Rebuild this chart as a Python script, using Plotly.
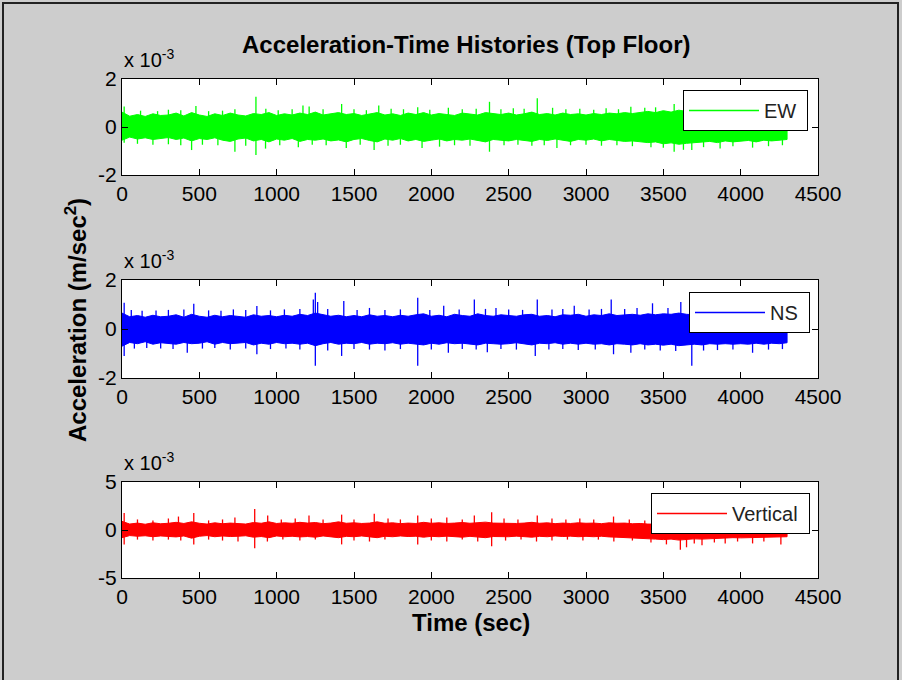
import plotly.graph_objects as go

# ---------------- data (units of 1e-3 m/sec^2) ----------------
t_core = list(range(0, 4301, 50))

ew_core_hi = [0.62, 0.45, 0.52, 0.44, 0.55, 0.48, 0.50, 0.58, 0.46, 0.60,
              0.50, 0.44, 0.55, 0.48, 0.58, 0.50, 0.46, 0.56, 0.52, 0.60,
              0.48, 0.55, 0.50, 0.58, 0.52, 0.62, 0.50, 0.55, 0.60, 0.52,
              0.56, 0.48, 0.54, 0.60, 0.50, 0.55, 0.48, 0.58, 0.52, 0.60,
              0.50, 0.56, 0.52, 0.48, 0.58, 0.54, 0.50, 0.60, 0.55, 0.52,
              0.58, 0.50, 0.55, 0.62, 0.52, 0.56, 0.50, 0.58, 0.52, 0.55,
              0.50, 0.56, 0.52, 0.58, 0.55, 0.60, 0.56, 0.62, 0.65, 0.60,
              0.68, 0.62, 0.70, 0.65, 0.62, 0.60, 0.58, 0.62, 0.56, 0.60,
              0.55, 0.60, 0.52, 0.56, 0.50, 0.55, 0.52]
ew_core_lo = [-0.55, -0.42, -0.50, -0.45, -0.52, -0.48, -0.44, -0.52, -0.46, -0.58,
              -0.48, -0.52, -0.45, -0.55, -0.60, -0.50, -0.46, -0.58, -0.52, -0.62,
              -0.50, -0.55, -0.48, -0.60, -0.52, -0.55, -0.50, -0.58, -0.54, -0.62,
              -0.52, -0.48, -0.56, -0.62, -0.50, -0.55, -0.48, -0.58, -0.52, -0.60,
              -0.55, -0.50, -0.58, -0.52, -0.55, -0.50, -0.56, -0.62, -0.52, -0.55,
              -0.58, -0.52, -0.55, -0.60, -0.52, -0.56, -0.50, -0.55, -0.60, -0.52,
              -0.55, -0.50, -0.58, -0.52, -0.56, -0.60, -0.58, -0.62, -0.65, -0.62,
              -0.70, -0.66, -0.72, -0.68, -0.65, -0.62, -0.60, -0.65, -0.58, -0.62,
              -0.60, -0.56, -0.62, -0.55, -0.58, -0.55, -0.52]
ew_peak_up_t = [14, 120, 230, 300, 380, 478, 560, 650, 730, 866, 930, 1010, 1100, 1170,
                1210, 1300, 1420, 1500, 1580, 1660, 1740, 1820, 1912, 1990, 2110, 2200,
                2290, 2376, 2450, 2530, 2600, 2685, 2784, 2870, 2960, 3050, 3130, 3210,
                3290, 3380, 3450, 3570, 3700, 3850, 4000, 4150, 4280]
ew_peak_up_v = [0.85, 0.68, 0.66, 0.72, 0.70, 0.87, 0.66, 0.68, 0.74, 1.26, 0.76, 0.70, 0.74, 0.90,
                0.85, 0.74, 0.96, 0.74, 0.70, 0.90, 0.76, 0.74, 0.82, 0.72, 0.80, 0.74,
                0.76, 1.05, 0.74, 0.78, 0.76, 1.20, 0.80, 0.74, 0.76, 0.72, 0.78, 0.74,
                0.84, 0.80, 0.82, 0.96, 0.82, 0.80, 0.82, 0.78, 0.74]
ew_peak_dn_t = [14, 100, 200, 300, 380, 450, 520, 620, 730, 800, 866, 928, 1020, 1140, 1230,
                1320, 1450, 1540, 1630, 1720, 1800, 1940, 2053, 2150, 2250, 2376, 2470, 2560,
                2650, 2730, 2812, 2900, 3000, 3100, 3200, 3300, 3420, 3500, 3570, 3630, 3684,
                3760, 3867, 3950, 4077, 4180, 4270]
ew_peak_dn_v = [-0.66, -0.70, -0.74, -0.72, -0.76, -0.96, -0.74, -0.76, -1.03, -0.78, -1.17, -0.90,
                -0.76, -0.84, -0.74, -0.76, -0.88, -0.74, -0.96, -0.78, -0.74, -0.88, -0.82, -0.76,
                -0.78, -1.03, -0.76, -0.74, -0.78, -0.76, -0.88, -0.76, -0.74, -0.78, -0.76, -0.80,
                -0.84, -0.86, -1.03, -0.95, -0.96, -0.84, -0.90, -0.80, -0.86, -0.80, -0.76]

ns_core_hi = [0.65, 0.50, 0.55, 0.48, 0.56, 0.50, 0.52, 0.58, 0.48, 0.60,
              0.52, 0.48, 0.56, 0.50, 0.55, 0.52, 0.48, 0.58, 0.52, 0.55,
              0.50, 0.56, 0.52, 0.60, 0.55, 0.65, 0.58, 0.52, 0.56, 0.50,
              0.55, 0.50, 0.58, 0.52, 0.55, 0.50, 0.56, 0.52, 0.58, 0.62,
              0.52, 0.56, 0.50, 0.60, 0.55, 0.52, 0.62, 0.55, 0.52, 0.58,
              0.55, 0.52, 0.58, 0.60, 0.52, 0.55, 0.50, 0.58, 0.56, 0.60,
              0.52, 0.58, 0.55, 0.62, 0.55, 0.58, 0.60, 0.56, 0.62, 0.58,
              0.62, 0.60, 0.65, 0.60, 0.58, 0.60, 0.56, 0.58, 0.55, 0.58,
              0.55, 0.58, 0.52, 0.55, 0.52, 0.55, 0.50]
ns_core_lo = [-0.70, -0.55, -0.60, -0.52, -0.62, -0.56, -0.58, -0.62, -0.55, -0.60,
              -0.58, -0.52, -0.62, -0.55, -0.60, -0.58, -0.55, -0.65, -0.58, -0.62,
              -0.55, -0.60, -0.58, -0.62, -0.58, -0.68, -0.60, -0.55, -0.62, -0.58,
              -0.60, -0.55, -0.62, -0.58, -0.60, -0.56, -0.62, -0.58, -0.62, -0.65,
              -0.58, -0.62, -0.56, -0.60, -0.58, -0.62, -0.65, -0.58, -0.60, -0.62,
              -0.60, -0.56, -0.62, -0.65, -0.58, -0.60, -0.56, -0.62, -0.58, -0.62,
              -0.58, -0.62, -0.60, -0.65, -0.60, -0.62, -0.65, -0.60, -0.65, -0.62,
              -0.66, -0.62, -0.68, -0.65, -0.62, -0.65, -0.60, -0.62, -0.60, -0.62,
              -0.60, -0.62, -0.58, -0.62, -0.58, -0.60, -0.56]
ns_peak_up_t = [14, 60, 130, 220, 300, 400, 464, 560, 640, 720, 800, 872, 960, 1050, 1150,
                1237, 1250, 1265, 1330, 1434, 1520, 1600, 1700, 1800, 1912, 1990, 2080, 2180,
                2278, 2350, 2418, 2500, 2590, 2685, 2780, 2850, 2924, 3020, 3100, 3163, 3250,
                3330, 3430, 3530, 3613, 3750, 3900, 4050, 4200]
ns_peak_up_v = [1.07, 0.78, 0.74, 0.76, 0.78, 0.80, 1.03, 0.76, 0.74, 0.80, 0.78, 0.94, 0.76, 0.80, 0.82,
                1.20, 1.48, 1.10, 0.82, 1.14, 0.78, 0.86, 0.78, 0.80, 1.28, 0.78, 0.95, 0.80,
                1.20, 0.82, 0.86, 0.80, 0.78, 1.20, 0.80, 0.82, 0.95, 0.80, 0.82, 1.20, 0.82,
                0.86, 1.05, 0.86, 1.10, 0.82, 0.82, 0.82, 0.78]
ns_peak_dn_t = [14, 80, 160, 250, 330, 422, 520, 600, 700, 800, 872, 960, 1060, 1150, 1250,
                1330, 1420, 1500, 1600, 1700, 1800, 1912, 2000, 2110, 2200, 2290, 2362, 2450,
                2550, 2672, 2760, 2850, 2950, 3060, 3178, 3290, 3380, 3480, 3580, 3684, 3760,
                3850, 3950, 4077, 4180, 4270]
ns_peak_dn_v = [-1.10, -0.80, -0.78, -0.80, -0.82, -0.97, -0.80, -0.78, -0.84, -0.80, -1.03, -0.82,
                -0.80, -0.84, -1.50, -0.88, -1.10, -0.82, -0.84, -0.88, -0.82, -1.50, -0.84, -0.97,
                -0.82, -0.84, -0.95, -0.82, -0.84, -1.10, -0.84, -0.82, -0.86, -0.84, -1.03, -0.97,
                -0.84, -0.88, -0.90, -1.50, -0.88, -0.86, -0.84, -0.97, -0.84, -0.82]

v_core_hi = [0.90, 0.62, 0.72, 0.60, 0.75, 0.65, 0.70, 0.80, 0.68, 0.85,
             0.70, 0.62, 0.75, 0.65, 0.72, 0.68, 0.62, 0.78, 0.70, 0.85,
             0.68, 0.75, 0.70, 0.80, 0.72, 0.78, 0.66, 0.72, 0.85, 0.70,
             0.75, 0.68, 0.72, 0.85, 0.70, 0.75, 0.66, 0.72, 0.68, 0.80,
             0.70, 0.75, 0.68, 0.72, 0.78, 0.70, 0.75, 0.82, 0.72, 0.70,
             0.75, 0.68, 0.72, 0.80, 0.70, 0.75, 0.66, 0.72, 0.68, 0.75,
             0.70, 0.72, 0.66, 0.75, 0.70, 0.72, 0.65, 0.68, 0.62, 0.60,
             0.62, 0.58, 0.60, 0.56, 0.58, 0.55, 0.58, 0.55, 0.56, 0.55,
             0.55, 0.58, 0.55, 0.56, 0.55, 0.58, 0.55]
v_core_lo = [-0.80, -0.58, -0.65, -0.60, -0.70, -0.62, -0.65, -0.72, -0.62, -0.85,
             -0.65, -0.58, -0.70, -0.62, -0.68, -0.65, -0.60, -0.75, -0.68, -0.80,
             -0.62, -0.70, -0.65, -0.72, -0.68, -0.75, -0.62, -0.68, -0.80, -0.66,
             -0.70, -0.62, -0.68, -0.80, -0.65, -0.70, -0.62, -0.68, -0.65, -0.75,
             -0.66, -0.70, -0.64, -0.68, -0.75, -0.66, -0.70, -0.80, -0.68, -0.66,
             -0.70, -0.64, -0.68, -0.75, -0.66, -0.70, -0.62, -0.68, -0.64, -0.70,
             -0.66, -0.70, -0.65, -0.72, -0.75, -0.80, -0.78, -0.85, -0.90, -0.95,
             -1.00, -0.95, -1.05, -0.98, -0.92, -0.95, -0.90, -0.88, -0.85, -0.80,
             -0.82, -0.78, -0.80, -0.75, -0.78, -0.72, -0.70]
v_peak_up_t = [14, 100, 200, 300, 365, 464, 560, 650, 730, 858, 942, 1030, 1120, 1209, 1300,
               1420, 1500, 1631, 1720, 1800, 1912, 2000, 2100, 2200, 2278, 2390, 2470, 2560,
               2685, 2780, 2870, 2960, 3050, 3178, 3280, 3380]
v_peak_up_v = [1.77, 1.10, 1.00, 1.20, 1.40, 1.77, 1.00, 1.10, 1.30, 2.20, 1.50, 1.10, 1.20, 1.50, 1.10,
               1.60, 1.10, 1.70, 1.20, 1.10, 1.50, 1.20, 1.30, 1.10, 1.50, 1.84, 1.20, 1.10,
               1.50, 1.20, 1.10, 1.20, 1.10, 1.40, 1.10, 1.00]
v_peak_dn_t = [14, 100, 200, 300, 380, 464, 560, 650, 750, 858, 940, 1040, 1150, 1250, 1420,
               1500, 1600, 1700, 1912, 2000, 2100, 2200, 2300, 2390, 2480, 2580, 2680, 2780,
               2880, 2980, 3080, 3180, 3300, 3420, 3520, 3610, 3650, 3700, 3750, 3830, 3900,
               3980, 4077, 4150, 4260]
v_peak_dn_v = [-1.50, -1.00, -1.10, -1.00, -1.10, -1.50, -1.00, -1.10, -1.20, -1.90, -1.20, -1.00,
               -1.10, -1.00, -1.50, -1.10, -1.20, -1.00, -1.50, -1.10, -1.20, -1.00, -1.20, -1.70,
               -1.10, -1.00, -1.20, -1.10, -1.00, -1.10, -1.00, -1.20, -1.10, -1.30, -1.50, -2.05,
               -1.80, -1.40, -1.60, -1.30, -1.40, -1.20, -1.40, -1.20, -1.50]

series = [
    ("EW", "#00FF00", ew_core_hi, ew_core_lo, ew_peak_up_t, ew_peak_up_v, ew_peak_dn_t, ew_peak_dn_v, 2),
    ("NS", "#0000FF", ns_core_hi, ns_core_lo, ns_peak_up_t, ns_peak_up_v, ns_peak_dn_t, ns_peak_dn_v, 2),
    ("Vertical", "#FF0000", v_core_hi, v_core_lo, v_peak_up_t, v_peak_up_v, v_peak_dn_t, v_peak_dn_v, 5),
]
x_ticks = [0, 500, 1000, 1500, 2000, 2500, 3000, 3500, 4000, 4500]

# ---------------- layout geometry (pixels) ----------------
W, H = 902, 680
ax_left, ax_right = 122, 818
ax_tb = [(79, 175), (280, 378), (482, 578)]
legend_box = [(808, 90), (810, 292), (810, 493)]

def px(x):
    return x / W

def py(y):
    return 1 - y / H

fig = go.Figure()
FONT = "Liberation Sans, Arial, sans-serif"

for i, (name, col, chi, clo, ut, uv, dt, dv, lim) in enumerate(series):
    xa = "x" if i == 0 else f"x{i+1}"
    ya = "y" if i == 0 else f"y{i+1}"
    lg = "legend" if i == 0 else f"legend{i+1}"
    # dense core band of the record
    fig.add_trace(go.Scatter(
        x=t_core + t_core[::-1], y=[v * 1e-3 for v in chi] + [v * 1e-3 for v in clo[::-1]],
        fill="toself", fillcolor=col, mode="lines", line=dict(color=col, width=1),
        xaxis=xa, yaxis=ya, showlegend=False, hoverinfo="skip"))
    # individual peaks
    sx, sy = [], []
    for tt, vv in list(zip(ut, uv)) + list(zip(dt, dv)):
        sx += [tt, tt, None]
        sy += [0, vv * 1e-3, None]
    fig.add_trace(go.Scatter(
        x=sx, y=sy, mode="lines", line=dict(color=col, width=1.3),
        xaxis=xa, yaxis=ya, showlegend=False, hoverinfo="skip"))
    # legend entry
    fig.add_trace(go.Scatter(
        x=[None], y=[None], mode="lines", line=dict(color=col, width=1.5),
        name=name + "\u00a0", xaxis=xa, yaxis=ya, legend=lg))

    top, bot = ax_tb[i]
    axkw = dict(showline=True, linecolor="black", linewidth=1, mirror="ticks",
                ticks="inside", ticklen=6, tickcolor="black", showgrid=False,
                zeroline=False, tickfont=dict(family=FONT, size=21, color="black"))
    fig.layout[f"xaxis{'' if i == 0 else i+1}"] = dict(
        domain=[px(ax_left), px(ax_right)], range=[0, 4500], tickvals=x_ticks,
        anchor=ya, **axkw)
    fig.layout[f"yaxis{'' if i == 0 else i+1}"] = dict(
        domain=[py(bot), py(top)], range=[-lim * 1e-3, lim * 1e-3],
        tickvals=[-lim * 1e-3, 0, lim * 1e-3], ticktext=[f"-{lim}", "0", f"{lim}"],
        anchor=xa, **axkw)
    lx, ly = legend_box[i]
    fig.layout[lg] = dict(
        x=px(lx), y=py(ly), xanchor="right", yanchor="top", xref="paper", yref="paper",
        bgcolor="white", bordercolor="black", borderwidth=1,
        font=dict(family=FONT, size=20, color="#222"), itemwidth=70)
    fig.add_annotation(
        x=px(ax_left), y=py(top - 6), xref="paper", yref="paper",
        xanchor="left", yanchor="bottom", showarrow=False,
        text="x 10<sup>-3</sup>", font=dict(family=FONT, size=20, color="black"))

fig.add_annotation(x=px(467), y=py(45), xref="paper", yref="paper", showarrow=False,
                   xanchor="center", yanchor="middle",
                   text="<b>Acceleration-Time Histories (Top Floor)</b>",
                   font=dict(family=FONT, size=24, color="black"))
fig.add_annotation(x=px(471), y=py(622), xref="paper", yref="paper", showarrow=False,
                   xanchor="center", yanchor="middle",
                   text="<b>Time (sec)</b>", font=dict(family=FONT, size=24, color="black"))
fig.add_annotation(x=px(76), y=py(320), xref="paper", yref="paper", showarrow=False,
                   xanchor="center", yanchor="middle",
                   textangle=-90, text="<b>Acceleration (m/sec<sup>2</sup>)</b>",
                   font=dict(family=FONT, size=24, color="black"))

fig.add_shape(type="rect", xref="paper", yref="paper", x0=px(3), x1=px(898),
              y0=-0.05, y1=py(3), line=dict(color="#222", width=2), layer="below")

fig.update_layout(width=W, height=H,
                  margin=dict(l=0, r=0, t=0, b=0, pad=0, autoexpand=False),
                  paper_bgcolor="#CDCDCD", plot_bgcolor="white", showlegend=True)

fig.write_html("out.html", config={"displayModeBar": False},
               post_script="document.body.style.margin='0';document.body.style.padding='0';")
